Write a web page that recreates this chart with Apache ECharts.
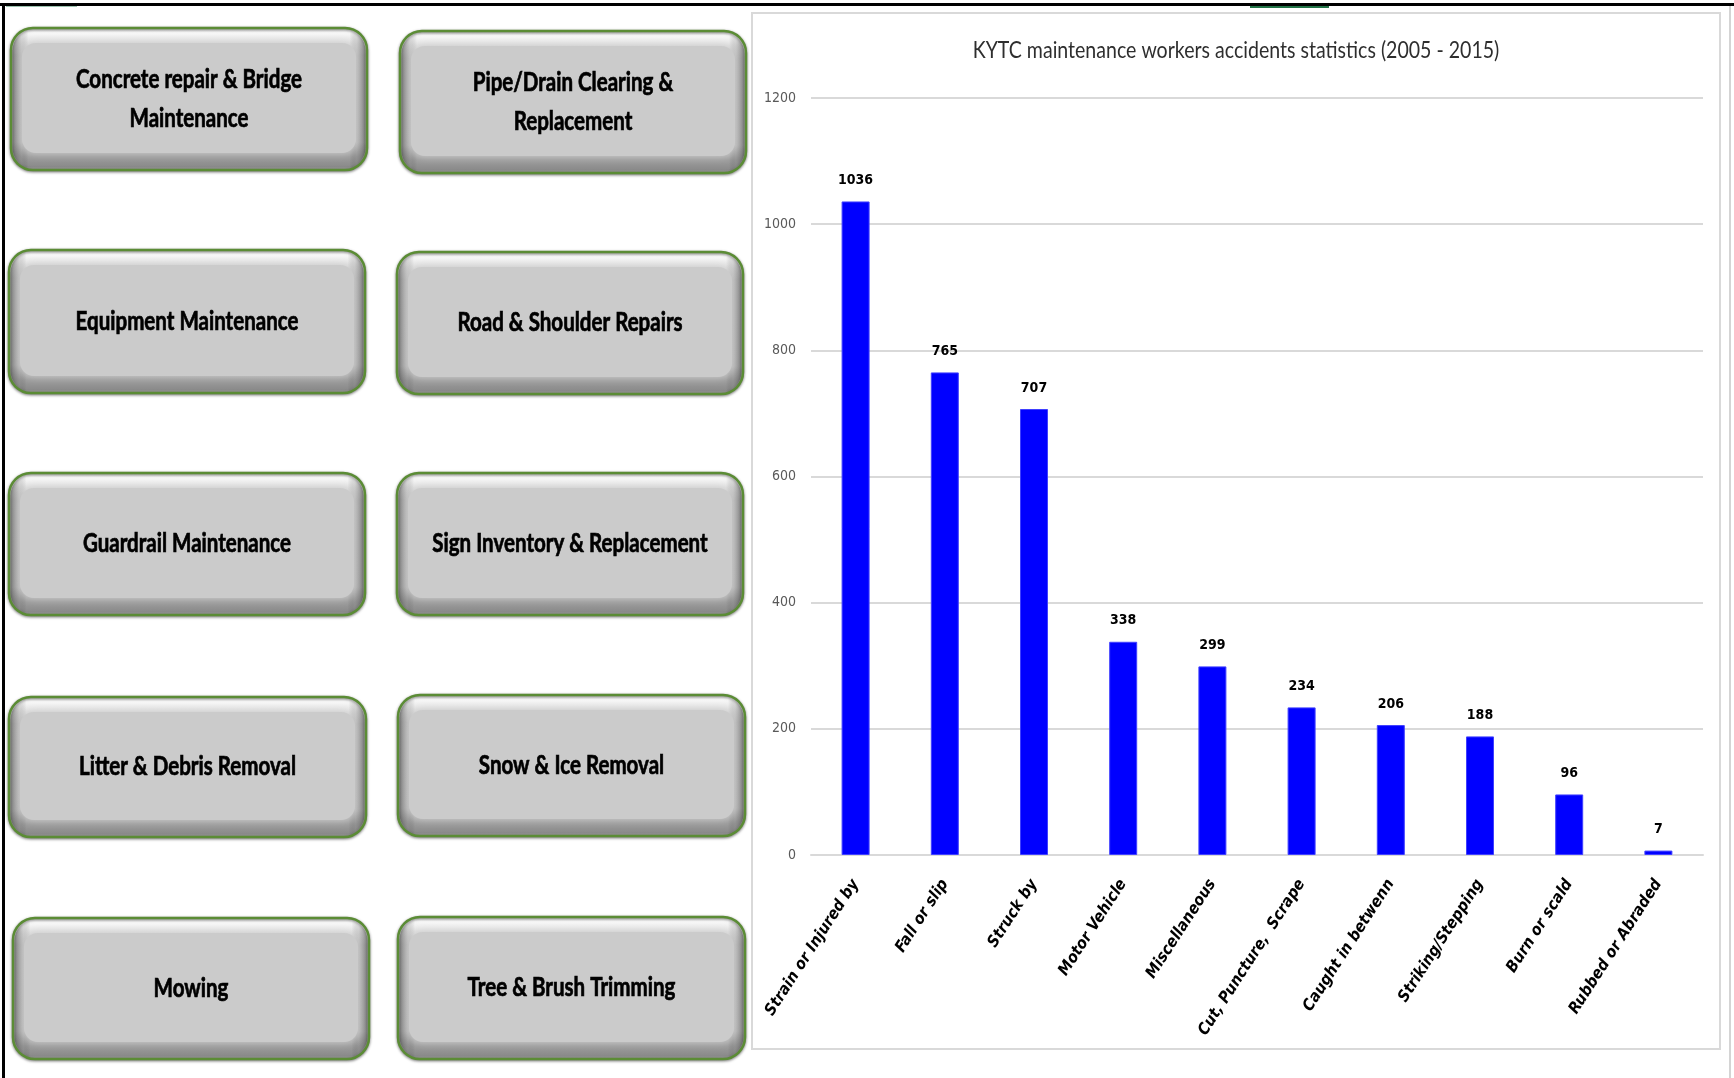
<!DOCTYPE html>
<html>
<head>
<meta charset="utf-8">
<script src="https://cdn.jsdelivr.net/npm/echarts@6/dist/echarts.min.js"></script>
<style>
html,body{margin:0;padding:0;background:#fff;}
#chart{width:1734px;height:1078px;}
</style>
</head>
<body>
<div id="chart"></div>
<script>
// ---- data ----
var categories = ['Strain or Injured by', 'Fall or slip', 'Struck by', 'Motor Vehicle', 'Miscellaneous',
  'Cut, Puncture,  Scrape', 'Caught in betwenn', 'Striking/Stepping', 'Burn or scald', 'Rubbed or Abraded'];
var accidents = [1036, 765, 707, 338, 299, 234, 206, 188, 96, 7];
var yTicks = [0, 200, 400, 600, 800, 1000, 1200];
var titleText = 'KYTC maintenance workers accidents statistics (2005 - 2015)';
var buttonLabels = [
  'Concrete repair & Bridge\nMaintenance', 'Pipe/Drain Clearing &\nReplacement',
  'Equipment Maintenance', 'Road & Shoulder Repairs',
  'Guardrail Maintenance', 'Sign Inventory & Replacement',
  'Litter & Debris Removal', 'Snow & Ice Removal',
  'Mowing', 'Tree & Brush Trimming'
];

// ---- layout of the button panel (page decoration) ----
var buttonBoxes = [
  [11, 28, 356, 142], [400, 31, 346, 142],
  [9, 250, 356, 143], [397, 252, 346, 142],
  [9, 473, 356, 142], [397, 473, 346, 142],
  [9, 697, 357, 140], [398, 695, 347, 141],
  [13, 918, 356, 141], [398, 917, 347, 142]
];

function makeButton(box, label) {
  var x = box[0], y = box[1], w = box[2], h = box[3];
  return {
    type: 'group', x: x, y: y, z: 5,
    children: [
      { type: 'rect', shape: { x: 0, y: 0, width: w, height: h, r: 22 },
        style: {
          fill: { type: 'linear', x: 0, y: 0, x2: 0, y2: 1, colorStops: [
            { offset: 0, color: '#d6d6d6' }, { offset: 0.04, color: '#fafafa' },
            { offset: 0.11, color: '#e2e2e2' }, { offset: 0.2, color: '#cccccc' },
            { offset: 0.8, color: '#c8c8c8' }, { offset: 0.9, color: '#9c9c9c' },
            { offset: 0.97, color: '#8a8a8a' }, { offset: 1, color: '#b4b4b4' }] },
          stroke: '#5b8c35', lineWidth: 2.5,
          shadowBlur: 3, shadowColor: 'rgba(0,0,0,0.45)', shadowOffsetY: 1 } },
      { type: 'rect', shape: { x: 1.5, y: 1.5, width: w - 3, height: h - 3, r: 21 },
        style: {
          fill: { type: 'linear', x: 0, y: 0, x2: 1, y2: 0, colorStops: [
            { offset: 0, color: 'rgba(60,60,60,0.55)' }, { offset: 0.025, color: 'rgba(110,110,110,0.2)' },
            { offset: 0.045, color: 'rgba(0,0,0,0)' }, { offset: 0.955, color: 'rgba(0,0,0,0)' },
            { offset: 0.975, color: 'rgba(110,110,110,0.2)' }, { offset: 1, color: 'rgba(60,60,60,0.55)' }] } } },
      { type: 'rect', shape: { x: 11, y: 15, width: w - 22, height: h - 32, r: 14 },
        style: { fill: '#cbcbcb', shadowBlur: 8, shadowColor: '#cbcbcb' } },
      { type: 'text', x: w / 2, y: h / 2, scaleX: 0.79, style: {
          x: 0, y: 0, text: label, align: 'center', verticalAlign: 'middle',
          fontFamily: 'Lato', fontWeight: 'bold', fontSize: 26, lineHeight: 39,
          fill: '#000', stroke: '#000', lineWidth: 0.7 } }
    ]
  };
}

var graphics = [
  // chart frame
  { type: 'rect', z: -10, shape: { x: 752, y: 13, width: 968, height: 1036 },
    style: { fill: '#fff', stroke: '#d9d9d9', lineWidth: 2 } },
  // chart title
  { type: 'text', z: 10, x: 1236, y: 51, scaleX: 0.85, style: {
      x: 0, y: 0, text: titleText, align: 'center', verticalAlign: 'middle',
      fontFamily: 'Lato', fontSize: 23, fill: '#2e2e2e' } },
  // page edges
  { type: 'rect', z: 10, shape: { x: 0, y: 3, width: 1734, height: 3 }, style: { fill: '#000' } },
  { type: 'rect', z: 10, shape: { x: 2, y: 3, width: 3, height: 1075 }, style: { fill: '#000' } },
  { type: 'rect', z: 10, shape: { x: 1250, y: 6, width: 79, height: 2 }, style: { fill: '#217346' } },
  { type: 'rect', z: 10, shape: { x: 6, y: 6, width: 71, height: 1 }, style: { fill: '#9cc3b0' } },
  { type: 'rect', z: 10, shape: { x: 1729, y: 6, width: 2, height: 1072 }, style: { fill: '#d4d4d4' } }
];
for (var i = 0; i < buttonLabels.length; i++) {
  graphics.push(makeButton(buttonBoxes[i], buttonLabels[i]));
}

var chart = echarts.init(document.getElementById('chart'));
chart.setOption({
  animation: false,
  backgroundColor: '#fff',
  graphic: graphics,
  grid: { left: 811, right: 31, top: 98, bottom: 223, containLabel: false },
  xAxis: {
    type: 'category', data: categories,
    axisLine: { lineStyle: { color: '#d9d9d9', width: 2 } },
    axisTick: { show: false },
    axisLabel: {
      interval: 0, rotate: 57, margin: 26,
      fontFamily: 'DejaVu Sans Condensed', fontWeight: 'bold', fontStyle: 'italic', fontSize: 16, color: '#000'
    }
  },
  yAxis: {
    type: 'value', min: yTicks[0], max: yTicks[yTicks.length - 1], interval: yTicks[1] - yTicks[0],
    axisLine: { show: false }, axisTick: { show: false },
    splitLine: { lineStyle: { color: '#d9d9d9', width: 2 } },
    axisLabel: { margin: 15, fontFamily: 'DejaVu Sans Condensed', fontSize: 14, color: '#595959',
      formatter: function (v) { return String(v); } }
  },
  series: [{
    type: 'bar', data: accidents, barWidth: 28,
    itemStyle: { color: '#0000ff', borderColor: '#4040ff', borderWidth: 1 },
    label: {
      show: true, position: 'top', distance: 14,
      fontFamily: 'DejaVu Sans Condensed', fontWeight: 'bold', fontSize: 14, color: '#000'
    }
  }]
});
</script>
</body>
</html>
